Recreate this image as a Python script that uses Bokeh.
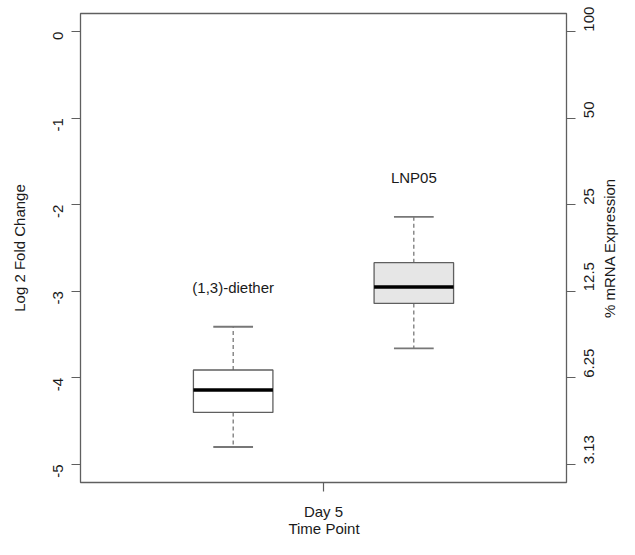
import math
import numpy as np
from bokeh.plotting import figure
from bokeh.models import Range1d, LinearAxis, FixedTicker, ColumnDataSource, Label
from bokeh.core.properties import value
from bokeh.embed import file_html
from bokeh.resources import INLINE

# ---- data ----
groups = ["(1,3)-diether", "LNP05"]
group_pos = [1, 2]
whisker_low = [-4.80, -3.66]
q1 = [-4.40, -3.14]
median = [-4.14, -2.95]
q3 = [-3.91, -2.67]
whisker_high = [-3.41, -2.14]
box_fill = ["#ffffff", "#e6e6e6"]

log2_ticks = [0, -1, -2, -3, -4, -5]
log2_tick_labels = ["0", "-1", "-2", "-3", "-4", "-5"]
pct_tick_labels = ["100", "50", "25", "12.5", "6.25", "3.13"]
x_tick_pos = [1.5]
x_tick_labels = ["Day 5"]

FONT = "Liberation Sans"
TXT = "#1a1a1a"
LINE = "#5f5f5f"
BOX_W = 0.44
CAP_W = 0.22

pos = np.array(group_pos, dtype=float)
src = ColumnDataSource(dict(
    x=pos, lo=whisker_low, q1=q1, med=median, q3=q3, hi=whisker_high,
    fill=box_fill, name=groups,
    bx0=pos - BOX_W / 2, bx1=pos + BOX_W / 2,
    cx0=pos - CAP_W / 2, cx1=pos + CAP_W / 2,
))

W, H = 619, 539
BL, BR, BT, BB = 80, 52, 13, 57

p = figure(width=W, height=H, output_backend="svg", toolbar_location=None,
           x_range=Range1d(0.155, 2.845), y_range=Range1d(-5.21, 0.21),
           min_border_left=BL, min_border_right=BR, min_border_top=BT,
           min_border_bottom=BB)
p.grid.visible = False
p.outline_line_color = LINE
p.outline_line_width = 1.3
p.background_fill_color = "white"
p.border_fill_color = "white"

# whiskers
p.segment(x0="x", x1="x", y0="q3", y1="hi", source=src, line_color=LINE,
          line_width=1.1, line_dash="4 3")
p.segment(x0="x", x1="x", y0="q1", y1="lo", source=src, line_color=LINE,
          line_width=1.1, line_dash="4 3")
# caps
p.segment(x0="cx0", x1="cx1", y0="hi", y1="hi", source=src, line_color="#777777",
          line_width=1.8)
p.segment(x0="cx0", x1="cx1", y0="lo", y1="lo", source=src, line_color="#777777",
          line_width=1.8)
# boxes
p.vbar(x="x", width=BOX_W, bottom="q1", top="q3", source=src, fill_color="fill",
       line_color=LINE, line_width=1.3)
# medians
p.segment(x0="bx0", x1="bx1", y0="med", y1="med", source=src, line_color="black",
          line_width=3.5)
# group labels above the upper whisker
p.text(x="x", y="hi", text="name", source=src, y_offset=-39,
       text_align="center", text_baseline="middle",
       text_font=value(FONT), text_font_size="15px", text_color=TXT)


def style(ax):
    ax.axis_line_color = None
    ax.major_tick_line_color = LINE
    ax.major_tick_line_width = 1.2
    ax.major_tick_out = 9
    ax.major_tick_in = 0
    ax.minor_tick_line_color = None
    ax.major_label_text_font = FONT
    ax.major_label_text_font_size = "15px"
    ax.major_label_text_color = TXT
    ax.axis_label_text_font = FONT
    ax.axis_label_text_font_size = "15px"
    ax.axis_label_text_font_style = "normal"
    ax.axis_label_text_color = TXT


# left axis
ly = p.yaxis[0]
style(ly)
ly.ticker = FixedTicker(ticks=log2_ticks)
ly.major_label_overrides = {t: s for t, s in zip(log2_ticks, log2_tick_labels)}
ly.major_label_orientation = math.pi / 2
ly.major_label_standoff = 13
ly.axis_label = "Log 2 Fold Change"
ly.axis_label_standoff = 18

# right axis
ry = LinearAxis(ticker=FixedTicker(ticks=log2_ticks),
                major_label_overrides={t: s for t, s in zip(log2_ticks, pct_tick_labels)})
style(ry)
ry.major_label_orientation = math.pi / 2
ry.major_label_standoff = 14
p.add_layout(ry, "right")

# bottom axis
bx = p.xaxis[0]
style(bx)
bx.ticker = FixedTicker(ticks=x_tick_pos)
bx.major_label_overrides = {t: s for t, s in zip(x_tick_pos, x_tick_labels)}
bx.major_label_standoff = 11

# axis titles placed as labels in the side panels (canvas units)
lab_kw = dict(x_units="canvas", y_units="canvas", text_font=FONT,
              text_font_size="15px", text_color=TXT, text_align="center",
              text_baseline="middle")
p.add_layout(Label(x=W - 10, y=247.5, text="% mRNA Expression",
                   angle=math.pi / 2, **lab_kw), "right")
p.add_layout(Label(x=323.5, y=H - 11, text="Time Point", **lab_kw), "below")

open("out.html", "w").write(file_html(p, INLINE))
